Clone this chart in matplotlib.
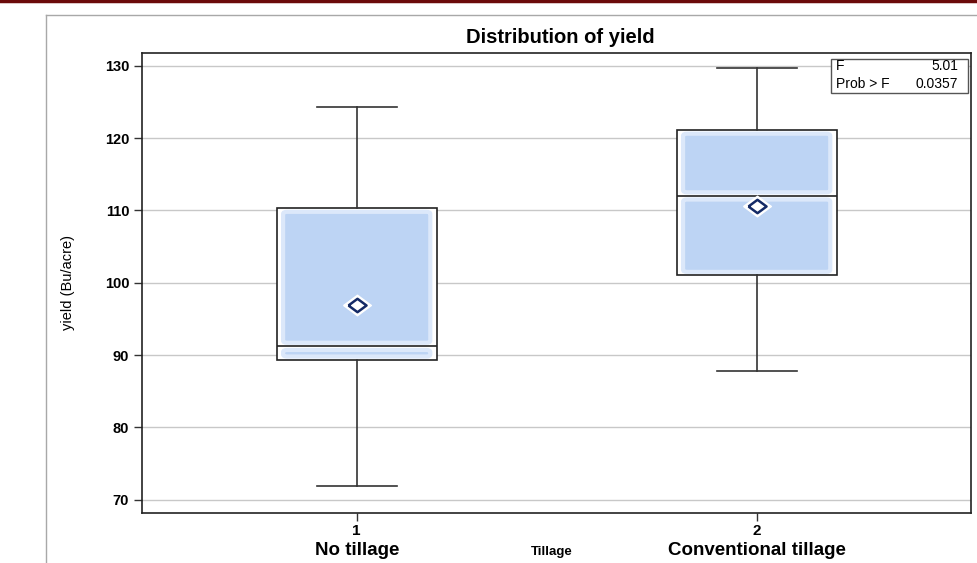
import matplotlib.pyplot as plt
from matplotlib.patches import Rectangle, FancyBboxPatch
from matplotlib.lines import Line2D

# Dados
positions = [1, 2]
tick_labels = ['1', '2']
group_names = ['No tillage', 'Conventional tillage']
whislo = [71.9, 87.8]
q1 = [89.3, 101.0]
med = [91.2, 112.0]
q3 = [110.3, 121.1]
whishi = [124.3, 129.7]
means = [96.9, 110.6]
f_value = 5.01
p_value = 0.0357

plt.rcParams['font.family'] = ['Liberation Sans', 'DejaVu Sans']

fig = plt.figure(figsize=(9.78, 5.63), dpi=100)
ax = fig.add_axes([0.1449, 0.0893, 0.848, 0.8171])

# Grade horizontal
for y in range(70, 131, 10):
    ax.axhline(y, color='#c8c8c8', lw=1, zorder=0)

stats = []
for i in range(len(positions)):
    stats.append({'whislo': whislo[i], 'q1': q1[i], 'med': med[i],
                  'q3': q3[i], 'whishi': whishi[i], 'fliers': []})

ax.bxp(stats, positions=positions, widths=0.40, showfliers=False,
       patch_artist=True,
       boxprops=dict(facecolor='white', edgecolor='#222222', lw=1.2),
       medianprops=dict(color='#222222', lw=1.2),
       whiskerprops=dict(color='#333333', lw=1.2),
       capprops=dict(color='#333333', lw=1.2),
       capwidths=0.20, zorder=2)

# Preenchimento azul arredondado dentro de cada metade da caixa
dx, dy = 0.016, 0.5
for i, x in enumerate(positions):
    for lo, hi in [(q1[i], med[i]), (med[i], q3[i])]:
        h = hi - lo - 2 * dy
        if h <= 0:
            continue
        p = FancyBboxPatch((x - 0.20 + dx, lo + dy), 0.40 - 2 * dx, h,
                           boxstyle='round,pad=0,rounding_size=0.01',
                           mutation_aspect=30,
                           facecolor='#bdd4f4', edgecolor='#dce8fa',
                           lw=3, zorder=3)
        ax.add_patch(p)

# Media (losango mais largo que alto)
diamante = [(-1.35, 0), (0, 1), (1.35, 0), (0, -1), (-1.35, 0)]
ax.plot(positions, means, marker=diamante, ls='none', ms=20,
        mfc='white', mec='white', zorder=4)
ax.plot(positions, means, marker=diamante, ls='none', ms=13,
        mfc='white', mec='#142a66', mew=1.8, zorder=5)

ax.set_xlim(0.4625, 2.536)
ax.set_ylim(68.2, 131.8)
ax.set_yticks(range(70, 131, 10))
ax.set_xticks(positions)
ax.set_xticklabels(tick_labels)
for lab in ax.get_yticklabels():
    lab.set_fontweight('bold')
    lab.set_fontsize(10.5)
for lab in ax.get_xticklabels():
    lab.set_fontweight('bold')
    lab.set_fontsize(11)
ax.tick_params(axis='both', direction='out', length=6, width=1, color='#333333')
ax.tick_params(axis='y', pad=3)
ax.tick_params(axis='x', pad=2)
for s in ax.spines.values():
    s.set_color('#222222')
    s.set_linewidth(1.2)

# Nomes dos grupos
for x, name in zip(positions, group_names):
    ax.text(x, -0.083, name, transform=ax.get_xaxis_transform(),
            ha='center', va='center', fontsize=13.5, fontweight='bold')
ax.text(0.4947, -0.086, 'Tillage', transform=ax.transAxes,
        ha='center', va='center', fontsize=9.5, fontweight='bold')

ax.set_ylabel('yield (Bu/acre)', fontsize=10.5)
ax.yaxis.set_label_coords(-0.0804, 0.5)
fig.text(0.5726, 0.934, 'Distribution of yield', ha='center', va='center',
         fontsize=14.5, fontweight='bold')

# Caixa com estatistica F
ax.add_patch(Rectangle((0.8316, 0.9124), 0.1652, 0.0739, transform=ax.transAxes,
                       facecolor='white', edgecolor='#555555', lw=1, zorder=6))
ax.text(0.837, 0.9717, 'F', transform=ax.transAxes, fontsize=10,
        ha='left', va='center', zorder=7)
ax.text(0.9843, 0.9717, '%.2f' % f_value, transform=ax.transAxes, fontsize=10,
        ha='right', va='center', zorder=7)
ax.text(0.837, 0.9313, 'Prob > F', transform=ax.transAxes, fontsize=10,
        ha='left', va='center', zorder=7)
ax.text(0.9843, 0.9313, '%.4f' % p_value, transform=ax.transAxes, fontsize=10,
        ha='right', va='center', zorder=7)

# Moldura externa
fig.add_artist(Line2D([0.0467, 0.0467], [0, 0.9728], color='#a8a8a8', lw=1))
fig.add_artist(Line2D([0.0467, 1], [0.9728, 0.9728], color='#a8a8a8', lw=1))
fig.add_artist(Line2D([0, 1], [0.998, 0.998], color='#6b0a0a', lw=2.5))

fig.savefig('out.png', dpi=100)
